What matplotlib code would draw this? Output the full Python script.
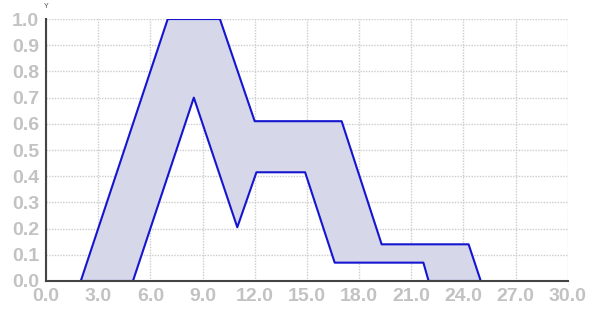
import matplotlib
matplotlib.use("Agg")
import matplotlib.pyplot as plt
import numpy as np

# upper and lower boundary of the shaded band
upper_x = [2.0, 7.0, 10.0, 12.0, 17.0, 19.3, 24.3, 25.0]
upper_y = [0.0, 1.0, 1.0, 0.61, 0.61, 0.14, 0.14, 0.0]
lower_x = [2.0, 5.0, 8.5, 11.0, 12.1, 14.9, 16.6, 21.7, 22.0, 25.0]
lower_y = [0.0, 0.0, 0.70, 0.205, 0.415, 0.415, 0.07, 0.07, 0.0, 0.0]

x_ticks = np.arange(0, 30.1, 3.0)
y_ticks = np.arange(0, 1.01, 0.1)

plt.rcParams['font.family'] = ['Liberation Sans', 'DejaVu Sans']

fig = plt.figure(figsize=(5.92, 3.12), dpi=100)
ax = fig.add_axes([0.0777, 0.0994, 0.8813, 0.8396])

# closed outline: upper left->right, then lower right->left
poly_x = upper_x + lower_x[::-1]
poly_y = upper_y + lower_y[::-1]
ax.fill(poly_x, poly_y, facecolor="#d6d8ea", edgecolor="none", zorder=2)
ax.plot(poly_x + [poly_x[0]], poly_y + [poly_y[0]], color="#1515d0", lw=1.5, zorder=3)

ax.set_xlim(0, 30)
ax.set_ylim(0, 1.0)
ax.set_xticks(x_ticks)
ax.set_yticks(y_ticks)
lab_style = dict(fontsize=14, fontweight="bold", color="#c2c2c2")
ax.set_xticklabels(["%.1f" % v for v in x_ticks], **lab_style)
ax.set_yticklabels(["%.1f" % v for v in y_ticks], **lab_style)
ax.tick_params(length=0, pad=5)

ax.grid(True, color="#cccccc", linestyle=(0, (1, 1)), lw=1, zorder=1)
ax.set_axisbelow(True)
for s in ["top", "right"]:
    ax.spines[s].set_visible(False)
for s in ["left", "bottom"]:
    ax.spines[s].set_color("#444444")
    ax.spines[s].set_linewidth(1.5)
    ax.spines[s].set_zorder(4)

fig.text(46 / 592, 1 - 7 / 312, "Y", fontsize=5, color="#444444", ha="center", va="center")

fig.savefig("out.png", dpi=100)
